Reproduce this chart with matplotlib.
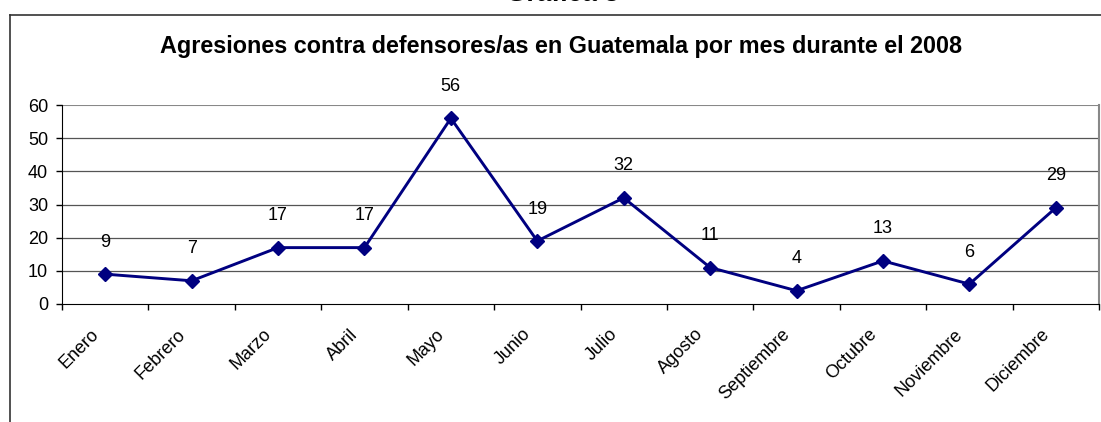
import matplotlib
matplotlib.use("Agg")
import matplotlib.pyplot as plt
from matplotlib.lines import Line2D

plt.rcParams['font.family'] = ['Liberation Sans', 'DejaVu Sans']

meses = ['Enero', 'Febrero', 'Marzo', 'Abril', 'Mayo', 'Junio', 'Julio',
         'Agosto', 'Septiembre', 'Octubre', 'Noviembre', 'Diciembre']
agresiones = [9, 7, 17, 17, 56, 19, 32, 11, 4, 13, 6, 29]
y_ticks = [0, 10, 20, 30, 40, 50, 60]

W, H = 1101, 422
fig = plt.figure(figsize=(W / 100, H / 100), dpi=100)

# chart area frame (only top and left visible in the crop)
fx, fy = 10 / W, 1 - 15 / H
fig.add_artist(Line2D([fx, fx], [0, fy], transform=fig.transFigure, color='#333333', lw=1.2))
fig.add_artist(Line2D([fx, 1], [fy, fy], transform=fig.transFigure, color='#333333', lw=1.2))

fig.text(562 / W, 1 - 1 / H, 'Gráfica 3', ha='center', va='baseline',
         fontsize=19, fontweight='bold')
fig.text(561 / W, 1 - 46 / H,
         'Agresiones contra defensores/as en Guatemala por mes durante el 2008',
         ha='center', va='center', fontsize=16.8, fontweight='bold')

left, right = 62 / W, 1099 / W
bottom, top = 1 - 304 / H, 1 - 105 / H
ax = fig.add_axes([left, bottom, right - left, top - bottom])

x = list(range(len(meses)))
ax.plot(x, agresiones, color='#000080', lw=2.1, marker='D', markersize=7.5,
        clip_on=False, zorder=3)
for xi, v in zip(x, agresiones):
    ax.annotate(str(v), (xi, v), xytext=(0, 23), textcoords='offset points',
                ha='center', va='center', fontsize=13)

ax.set_xlim(-0.5, len(meses) - 0.5)
ax.set_ylim(0, 60)
ax.set_yticks(y_ticks)
ax.set_yticklabels([str(t) for t in y_ticks], fontsize=13)
for t in y_ticks[1:-1]:
    ax.axhline(t, color='#555555', lw=0.9, zorder=1)
ax.axhline(60, color='#888888', lw=1.5, zorder=1)

# category boundaries get the tick marks, names drawn rotated below
ax.set_xticks([i - 0.5 for i in range(len(meses) + 1)])
ax.set_xticklabels([])
for xi, m in zip(x, meses):
    ax.annotate(m, (xi, 0), xycoords=('data', 'axes fraction'),
                xytext=(-6.5, -20), textcoords='offset points',
                rotation=45, rotation_mode='anchor', ha='right', va='center',
                fontsize=13)
ax.tick_params(axis='x', length=4.5, width=1, direction='out')
ax.tick_params(axis='y', length=4, width=1, direction='out', pad=6)

ax.spines['top'].set_visible(False)
ax.spines['right'].set_color('#888888')
ax.spines['right'].set_linewidth(1.5)
ax.spines['left'].set_color('black')
ax.spines['bottom'].set_color('black')

fig.savefig('out.png', dpi=100)
